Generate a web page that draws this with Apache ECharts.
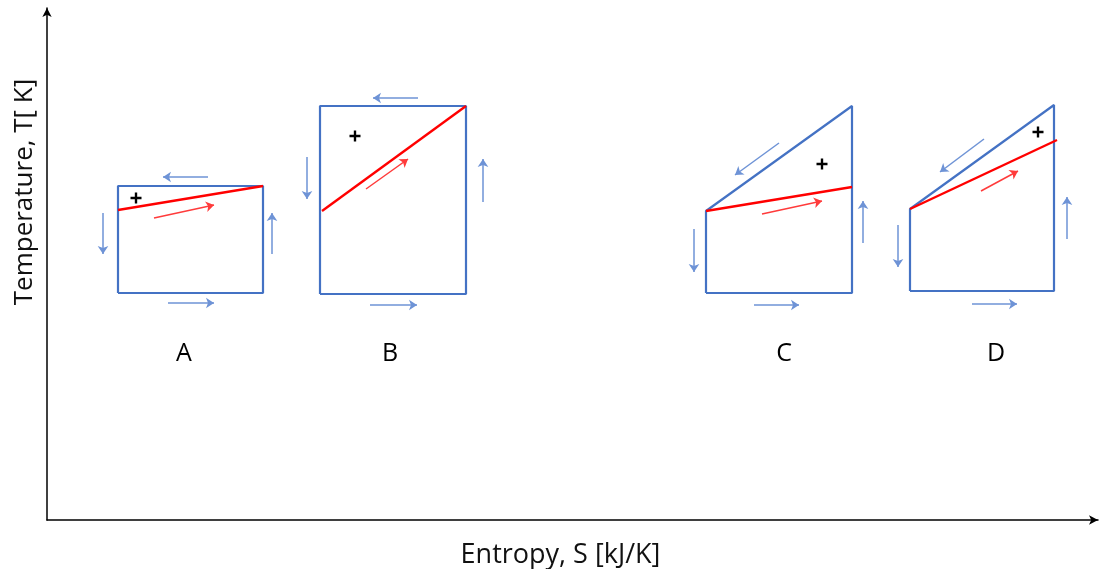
<!DOCTYPE html>
<html>
<head>
<meta charset="utf-8">
<script src="https://cdn.jsdelivr.net/npm/echarts@6/dist/echarts.min.js"></script>
<style>html,body{margin:0;padding:0;background:#fff}#c{width:1102px;height:569px}</style>
</head>
<body>
<div id="c"></div>
<script>
// Entropy S (x) and Temperature T (y), arbitrary units
const cycleNames = ['A', 'B', 'C', 'D'];
const outlineA = [[71, 227], [71, 334], [216, 334], [216, 227], [71, 227]];
const outlineB = [[273, 226], [273, 414], [419, 414], [419, 226], [273, 226]];
const outlineC = [[659, 227], [659, 309], [805, 414], [805, 227], [659, 227]];
const outlineD = [[863, 229], [863, 311], [1007, 415], [1007, 229], [863, 229]];
const redLines = [
  [[71, 310], [216, 334]],
  [[275, 309], [419, 414]],
  [[659, 309], [805, 333]],
  [[863, 311], [1010, 380]]
];
const blueArrows = [
  [[161, 343], [116, 343]], [[56, 307], [56, 266]], [[225, 266], [225, 307]], [[121, 217], [167, 217]],
  [[371, 422], [326, 422]], [[260, 363], [260, 321]], [[436, 318], [436, 361]], [[323, 215], [370, 215]],
  [[732, 377], [688, 345]], [[647, 291], [647, 248]], [[816, 277], [816, 319]], [[707, 215], [752, 215]],
  [[937, 381], [893, 348]], [[851, 295], [851, 253]], [[1020, 281], [1020, 323]], [[925, 216], [970, 216]]
];
const redArrows = [
  [[107, 302], [167, 315]],
  [[319, 331], [361, 361]],
  [[715, 306], [775, 319]],
  [[934, 329], [971, 349]]
];
const plusMarks = [[89, 322], [308, 384], [775, 356], [991, 388]];
const labelS = [137, 343, 737, 949];
const labelT = [166, 166, 166, 166];
const xName = 'Entropy, S [kJ/K]';
const yName = 'Temperature, T[ K]';

const BLUE = '#4472C4';
const FONT = '"Open Sans", sans-serif';
const TXT = '#000';

const outlineSeries = [outlineA, outlineB, outlineC, outlineD].map((d, i) => ({
  type: 'line', name: 'cycle ' + cycleNames[i], data: d, symbol: 'none', silent: true,
  lineStyle: { color: BLUE, width: 2.2 }, z: 2
}));

const option = {
  animation: false,
  backgroundColor: '#fff',
  grid: { left: 47, right: 4, top: 8, bottom: 49, containLabel: false, outerBoundsMode: 'none' },
  xAxis: {
    type: 'value', min: 0, max: 1051,
    axisLine: { show: true, onZero: false, symbol: ['none', 'arrow'], symbolSize: [7, 9], lineStyle: { color: '#000', width: 1.5 } },
    axisTick: { show: false }, axisLabel: { show: false }, splitLine: { show: false },
    name: xName, nameLocation: 'middle', nameGap: 22,
    nameTextStyle: { fontFamily: FONT, fontSize: 27, color: '#111', padding: [0, 24, 0, 0] }
  },
  yAxis: {
    type: 'value', min: 0, max: 512,
    axisLine: { show: true, onZero: false, symbol: ['none', 'arrow'], symbolSize: [7, 9], lineStyle: { color: '#000', width: 1.5 } },
    axisTick: { show: false }, axisLabel: { show: false }, splitLine: { show: false }
  },
  graphic: [{
    type: 'text', x: 25, y: 192, rotation: Math.PI / 2,
    style: { text: yName, fontFamily: FONT, fontSize: 26, fill: '#111', align: 'center', verticalAlign: 'middle' }
  }],
  series: [
    ...outlineSeries,
    {
      type: 'lines', coordinateSystem: 'cartesian2d', silent: true, z: 3,
      data: redLines.map(c => ({ coords: c })), symbol: 'none',
      lineStyle: { color: '#FF0000', width: 2.4, opacity: 1 }
    },
    {
      type: 'lines', coordinateSystem: 'cartesian2d', silent: true, z: 3,
      data: blueArrows.map(c => ({ coords: c })), symbol: ['none', 'arrow'], symbolSize: 8,
      lineStyle: { color: '#6E93D6', width: 1.5, opacity: 1 }
    },
    {
      type: 'lines', coordinateSystem: 'cartesian2d', silent: true, z: 3,
      data: redArrows.map(c => ({ coords: c })), symbol: ['none', 'arrow'], symbolSize: 8,
      lineStyle: { color: '#FF3B3B', width: 1.5, opacity: 1 }
    },
    {
      type: 'scatter', silent: true, z: 4, data: plusMarks,
      symbol: 'path://M4,0H6.2V4H10.2V6.2H6.2V10.2H4V6.2H0V4H4Z', symbolSize: 11,
      itemStyle: { color: '#000', opacity: 1 }
    },
    {
      type: 'scatter', silent: true, z: 4, symbolSize: 0,
      data: cycleNames.map((n, i) => ({ name: n, value: [labelS[i], labelT[i]] })),
      itemStyle: { opacity: 1 },
      label: { show: true, position: 'inside', formatter: '{b}', fontFamily: FONT, fontSize: 25, color: TXT, opacity: 1 }
    }
  ]
};
echarts.init(document.getElementById('c'), null, { renderer: 'canvas' }).setOption(option);
</script>
</body>
</html>
